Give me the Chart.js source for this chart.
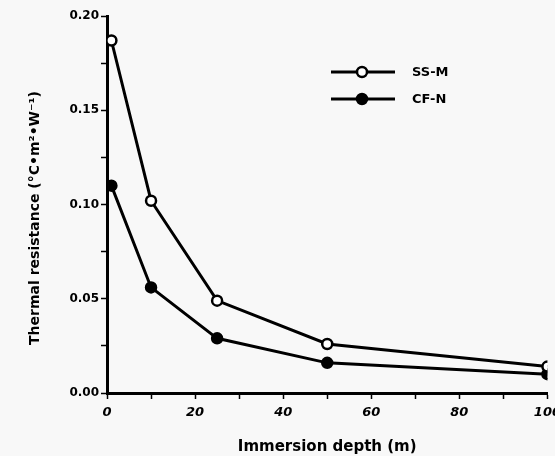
<!DOCTYPE html>
<html>
<head>
<meta charset="utf-8">
<script src="https://cdn.jsdelivr.net/npm/chart.js@4"></script>
<style>
html,body{margin:0;padding:0;background:#f8f8f8;overflow:hidden;}
#wrap{width:555px;height:456px;position:relative;overflow:hidden;}
</style>
</head>
<body>
<div id="wrap"><canvas id="c" width="567" height="456"></canvas></div>
<script>
// Data
const depthSSM = [1, 10, 25, 50, 100];
const valuesSSM = [0.187, 0.102, 0.049, 0.026, 0.014];
const depthCFN = [1, 10, 25, 50, 100];
const valuesCFN = [0.110, 0.056, 0.029, 0.016, 0.010];
const seriesNames = ['SS-M', 'CF-N'];
const yTickLabels = ['0.00', '0.05', '0.10', '0.15', '0.20'];
const xTickLabels = ['0', '20', '40', '60', '80', '100'];
const xTitle = 'Immersion depth (m)';
const yTitle = 'Thermal resistance (°C•m²•W⁻¹)';

const toPts = (xs, ys) => xs.map((x, i) => ({x: x, y: ys[i]}));

const legendPlugin = {
  id: 'customLegend',
  afterDraw(chart) {
    const ctx = chart.ctx;
    const rows = [72, 99];
    chart.data.datasets.forEach((ds, i) => {
      const y = rows[i];
      ctx.save();
      ctx.strokeStyle = '#000';
      ctx.lineWidth = 3;
      ctx.beginPath();
      ctx.moveTo(331, y);
      ctx.lineTo(395, y);
      ctx.stroke();
      ctx.beginPath();
      ctx.arc(362, y, 5, 0, Math.PI * 2);
      ctx.fillStyle = ds.pointBackgroundColor;
      ctx.fill();
      ctx.lineWidth = 2.5;
      ctx.stroke();
      ctx.fillStyle = '#000';
      ctx.font = 'bold 13px "DejaVu Sans"';
      ctx.textBaseline = 'middle';
      ctx.fillText(ds.label, 412, y + 1);
      ctx.restore();
    });
    // y axis title
    ctx.save();
    ctx.translate(35, 218);
    ctx.rotate(-Math.PI / 2);
    ctx.fillStyle = '#000';
    ctx.font = 'bold 14px "DejaVu Sans"';
    ctx.textAlign = 'center';
    ctx.textBaseline = 'middle';
    ctx.fillText(yTitle, 0, 0);
    ctx.restore();
  }
};

new Chart(document.getElementById('c'), {
  type: 'line',
  data: {
    datasets: [
      {
        label: seriesNames[0],
        data: toPts(depthSSM, valuesSSM),
        borderColor: '#000',
        borderWidth: 3,
        pointRadius: 5,
        pointBorderWidth: 2.5,
        pointBackgroundColor: '#fff',
        pointBorderColor: '#000',
        tension: 0
      },
      {
        label: seriesNames[1],
        data: toPts(depthCFN, valuesCFN),
        borderColor: '#000',
        borderWidth: 3,
        pointRadius: 5,
        pointBorderWidth: 2.5,
        pointBackgroundColor: '#000',
        pointBorderColor: '#000',
        tension: 0
      }
    ]
  },
  options: {
    responsive: false,
    animation: false,
    layout: {padding: {top: 16, right: 8, left: 0, bottom: 0}},
    plugins: {legend: {display: false}, tooltip: {enabled: false}},
    scales: {
      x: {
        type: 'linear',
        min: 0, max: 100,
        grid: {display: true, drawOnChartArea: false, drawTicks: true, tickLength: 6, color: '#000', tickWidth: 1.5},
        border: {display: true, color: '#000', width: 3},
        ticks: {
          stepSize: 10,
          autoSkip: false,
          maxRotation: 0,
          color: '#000',
          font: {family: 'DejaVu Sans', size: 13, weight: 'bold', style: 'italic'},
          padding: 6,
          callback: (v) => {
            const idx = xTickLabels.indexOf(String(v));
            return idx >= 0 ? xTickLabels[idx] : '';
          }
        },
        title: {
          display: true, text: xTitle, color: '#000',
          font: {family: 'DejaVu Sans', size: 15, weight: 'bold'},
          padding: {top: 16, bottom: 0}
        },
        afterFit: (s) => { s.height = 63; }
      },
      y: {
        type: 'linear',
        min: 0, max: 0.2,
        grid: {display: true, drawOnChartArea: false, drawTicks: true, tickLength: 6, color: '#000', tickWidth: 1.5},
        border: {display: true, color: '#000', width: 3},
        ticks: {
          stepSize: 0.025,
          autoSkip: false,
          color: '#000',
          font: {family: 'DejaVu Sans', size: 12, weight: 'bold'},
          padding: 2,
          callback: (v) => {
            const s = v.toFixed(2);
            const m = Math.round(v * 1000) % 50 === 0;
            return m && yTickLabels.includes(s) ? s : '';
          }
        },
        title: {display: false},
        afterFit: (s) => { s.width = 107; }
      }
    }
  },
  plugins: [legendPlugin]
});
</script>
</body>
</html>
